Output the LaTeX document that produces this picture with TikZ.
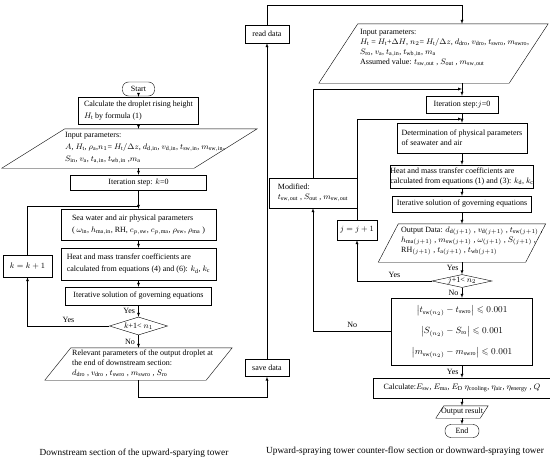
\documentclass[tikz,border=0pt]{standalone}
\usepackage{amsmath,amssymb}
\usepackage{fontspec}
\setmainfont{Liberation Serif}
\usetikzlibrary{shapes.geometric}
% parallelogram round a named node: #1 node, #2 slant
\newcommand{\iodraw}[2]{\draw ([xshift=#2]#1.north west) -- (#1.north east) -- ([xshift=-#2]#1.south east) -- (#1.south west) -- cycle;}

\begin{document}
\begin{tikzpicture}[x=1pt, y=-1pt, >=latex, thin,
  every node/.style={font=\fontsize{8}{10}\selectfont},
  wide/.style={font=\fontsize{8}{12}\selectfont},
  box/.style={draw, rectangle, align=left, inner sep=0pt},
  io/.style={rectangle, inner sep=0pt},
  term/.style={draw, rectangle, rounded corners=6pt, inner sep=0pt, minimum width=32, minimum height=14},
  test/.style={draw, diamond, inner sep=0pt},
  txt/.style={anchor=west, align=left, inner sep=0pt},
  captxt/.style={font=\fontsize{9.3}{11}\selectfont}]
\useasboundingbox (0,0) rectangle (550,463);

% downstream section
\node[term] (start) at (138.5,89) {Start};
\node[box, wide, minimum width=120, minimum height=27] (calc) at (138.5,110.5) {Calculate the droplet rising height\\$H_\mathrm{t}$ by formula (1)};
\node[io, minimum width=255, minimum height=39] (inL) at (129.5,148.5) {};
\iodraw{inL}{63pt}
\node[txt, wide] (inLt) at (65,148) {Input parameters:\\
  $A$, $H_\mathrm{t}$, $\rho_\mathrm{a}$,$n_1$= $H_\mathrm{t}/\Delta z$, $d_{\mathrm{d,in}}$, $v_{\mathrm{d,in}}$, $t_{\mathrm{sw,in}}$, $m_{\mathrm{sw,in}}$,\\
  $S_{\mathrm{in}}$, $v_\mathrm{a}$, $t_{\mathrm{a,in}}$, $t_{\mathrm{wb,in}}$ ,$m_\mathrm{a}$};
\node[box, minimum width=136, minimum height=15] (k0) at (138.5,182.5) {Iteration step: $k$=0};
\node[box, wide, minimum width=155, minimum height=31] (sea) at (138.5,224.5) {Sea water and air physical parameters\\
  ( $\omega_\mathrm{in}$, $h_{\mathrm{ma,in}}$, RH, $c_{p,\mathrm{sw}}$, $c_{p,\mathrm{ma}}$, $\rho_\mathrm{sw}$, $\rho_\mathrm{ma}$ )};
\node[box, wide, minimum width=155, minimum height=32] (heat) at (138.5,264) {Heat and mass transfer coefficients are\\
  calculated from equations (4) and (6): $k_\mathrm{d}$, $k_\mathrm{c}$};
\node[box, minimum width=146, minimum height=18] (iterL) at (138.5,296) {Iterative solution of governing equations};
\node[test, minimum width=58, minimum height=18] (diaL) at (138.5,326) {\makebox[0pt]{$k$+1< $n_1$}};
\node[box, minimum width=49, minimum height=22] (kk) at (27.5,266) {$k=k+1$};
\node[io, minimum width=187, minimum height=32] (outL) at (138.5,364) {};
\iodraw{outL}{26pt}
\node[txt] (outLt) at (72,363) {Relevant parameters of the output droplet at\\
  the end of downstream section:\\
  $d_\mathrm{dro}$ , $v_\mathrm{dro}$ , $t_\mathrm{swro}$ , $m_\mathrm{swro}$ , $S_\mathrm{ro}$};

% data exchange
\node[box, minimum width=44, minimum height=18] (read) at (267,34) {read data};
\node[box, minimum width=44, minimum height=17] (save) at (267,368) {save data};
\node[box, minimum width=88, minimum height=30] (mod) at (313,193) {Modified:\\
  $t_\mathrm{sw,out}$ , $S_\mathrm{out}$ , $m_\mathrm{sw,out}$};

% counter-flow section
\node[io, minimum width=229, minimum height=59] (inR) at (433.5,53.5) {};
\iodraw{inR}{39pt}
\node[txt] (inRt) at (360,48) {Input parameters:\\
  $H_\mathrm{t}$ = $H_\mathrm{t}$+$\Delta H$, $n_2$= $H_\mathrm{t}/\Delta z$, $d_\mathrm{dro}$, $v_\mathrm{dro}$, $t_\mathrm{swro}$, $m_\mathrm{swro}$,\\
  $S_\mathrm{ro}$, $v_\mathrm{a}$, $t_{\mathrm{a,in}}$, $t_{\mathrm{wb,in}}$, $m_\mathrm{a}$\\
  Assumed value: $t_\mathrm{sw,out}$ , $S_\mathrm{out}$ , $m_\mathrm{sw,out}$};
\node[box, minimum width=72, minimum height=17] (j0) at (462,104.5) {Iteration step:$j$=0};
\node[box, minimum width=130, minimum height=30] (det) at (462,138) {Determination of physical parameters\\of seawater and air};
\node[box, minimum width=134, minimum height=23] (heatR) at (462,176.5) {Heat and mass transfer coefficients are\\
  calculated from equations (1) and (3): $k_\mathrm{d}$, $k_\mathrm{c}$};
\node[box, minimum width=139, minimum height=16] (iterR) at (462,204) {Iterative solution of governing equations};
\node[io, minimum width=167, minimum height=38] (outD) at (462,243) {};
\iodraw{outD}{20pt}
\node[txt] (outDt) at (401,241) {Output Data: $d_{\mathrm{d}(j+1)}$ , $v_{\mathrm{d}(j+1)}$ , $t_{\mathrm{sw}(j+1)}$ ,\\
  $h_{\mathrm{ma}(j+1)}$ , $m_{\mathrm{sw}(j+1)}$ , $\omega_{(j+1)}$ , $S_{(j+1)}$ ,\\
  RH$_{(j+1)}$ , $t_{\mathrm{a}(j+1)}$ , $t_{\mathrm{wb}(j+1)}$};
\node[test, minimum width=60, minimum height=13] (diaR) at (462,281) {\makebox[0pt]{$j$+1< $n_2$}};
\node[box, minimum width=40, minimum height=20] (jj) at (357,230) {$j=j+1$};
\node[box, align=center, minimum width=141, minimum height=67, font=\fontsize{9}{21}\selectfont] (conv) at (462,331.5)
  {$\bigl|t_{\mathrm{sw}(n_2)}-t_\mathrm{swro}\bigr|\leqslant 0.001$\\
   $\bigl|S_{(n_2)}-S_\mathrm{ro}\bigr|\leqslant 0.001$\\
   $\bigl|m_{\mathrm{sw}(n_2)}-m_\mathrm{swro}\bigr|\leqslant 0.001$};
\node[box, minimum width=178, minimum height=20] (calcR) at (462,388) {Calculate:$E_\mathrm{sw}$, $E_\mathrm{ma}$, $E_\mathrm{D}$ $\eta_\mathrm{cooling}$, $\eta_\mathrm{air}$, $\eta_\mathrm{energy}$ , $Q$};
\node[io, minimum width=52, minimum height=12] (outRes) at (462,412) {Output result};
\iodraw{outRes}{8pt}
\node[term, minimum width=34, minimum height=13] (end) at (462,431) {End};

\node[captxt] (capL) at (134,453) {Downstream section of the upward-sparying tower};
\node[captxt] (capR) at (405,451) {Upward-spraying tower counter-flow section or downward-spraying tower};

% left flow
\coordinate (jL) at (138.5,206);
\coordinate (cB) at (138.5,397);
\draw[->] (start) -- (calc);
\draw[->] (calc) -- (inL.north -| calc);
\draw[->] (inL.south -| k0) -- (k0);
\draw[->] (k0) -- (sea);
\draw[->] (sea) -- (heat);
\draw[->] (heat) -- (iterL);
\draw[->] (iterL) -- node[left] (yL1) {Yes} (diaL);
\draw[->] (diaL) -- node[left] (nL1) {No} (outL);
\draw[->] (diaL.west) -| node[pos=0.25, above] (yL2) {Yes} (kk.south);
\draw (kk.north) |- (jL);
\draw[->] (outL.south) -- (cB) -| (save.south);

% middle
\coordinate (cT) at (462,5);
\draw[->] (save) -- (read);
\draw[->] (read.north) |- (cT) -- (inR.north -| cT);

% right flow
\coordinate (jT) at (462,89);
\coordinate (jB) at (462,119);
\draw[->] (inR.south -| j0) -- (j0);
\draw[->] (mod.north) |- (jT);
\draw[->] (j0) -- (det);
\draw[->] (jj.north) |- (jB);
\draw[->] (det) -- (heatR);
\draw[->] (heatR) -- (iterR);
\draw[->] (iterR) -- (outD);
\draw[->] (outD) -- node[left] (yR1) {Yes} (diaR);
\draw[->] (diaR.west) -| node[pos=0.25, above] (yR2) {Yes} (jj.south);
\draw[->] (diaR) -- node[left] (nR1) {No} (conv);
\draw[->] (conv.west) -| node[pos=0.25, above] (nR2) {No} (mod.south);
\draw[->] (conv) -- node[left] (yR3) {Yes} (calcR);
\draw[->] (calcR) -- (outRes);
\draw[->] (outRes) -- (end);
\end{tikzpicture}
\end{document}
